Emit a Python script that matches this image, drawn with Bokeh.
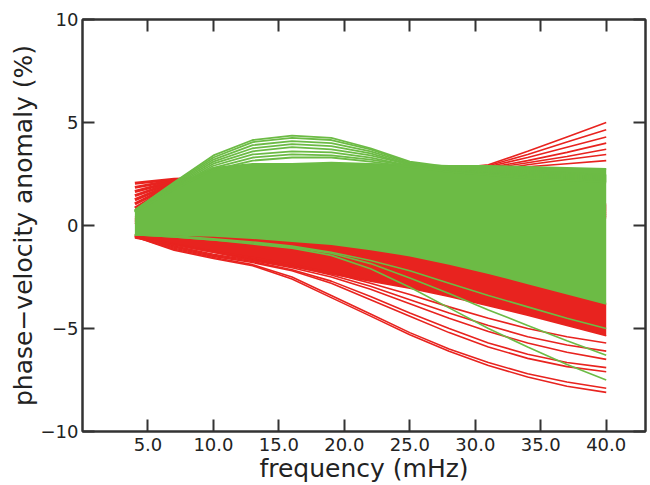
from bokeh.plotting import figure
from bokeh.models import (LinearAxis, FixedTicker, PrintfTickFormatter,
                          CustomLabelingPolicy)
from bokeh.embed import file_html
from bokeh.resources import INLINE

# Frequencies (mHz) at which every dispersion curve is sampled
freq = [4, 7, 10, 13, 16, 19, 22, 25, 28, 31, 34, 37, 40]

# Envelope of the dense bundle of green curves
green_top = [0.7, 1.9, 2.8, 3.0, 3.0, 3.05, 3.0, 2.95, 2.9, 2.9, 2.85, 2.8, 2.75]
green_bottom = [-0.5, -0.5, -0.55, -0.65, -0.8, -0.95, -1.2, -1.5, -1.9, -2.35, -2.85, -3.35, -3.85]

# Envelope of the dense bundle of red curves below it
red_band_top = [-0.4, -0.4, -0.45, -0.55, -0.7, -0.85, -1.1, -1.4, -1.8, -2.25, -2.75, -3.25, -3.75]
red_band_bottom = [-0.6, -0.95, -1.3, -1.7, -2.0, -2.35, -2.7, -3.05, -3.45, -3.9, -4.35, -4.85, -5.35]

# Red curves, high at low frequency
red_wedge = [
    [2.05, 2.25, 2.3, 2.3, 2.2, 2.0, 1.8, 1.6, 1.4, 1.3, 1.2, 1.1, 1.0],
    [1.85, 2.2, 2.25, 2.2, 2.1, 1.9, 1.7, 1.5, 1.3, 1.2, 1.1, 1.0, 0.9],
    [1.65, 2.15, 2.2, 2.1, 2.0, 1.8, 1.6, 1.4, 1.2, 1.1, 1.0, 0.9, 0.8],
    [1.45, 2.1, 2.15, 2.0, 1.9, 1.7, 1.5, 1.3, 1.1, 1.0, 0.9, 0.8, 0.7],
    [1.25, 2.05, 2.1, 1.9, 1.8, 1.6, 1.4, 1.2, 1.0, 0.9, 0.8, 0.7, 0.6],
    [1.05, 2.0, 2.05, 1.8, 1.7, 1.5, 1.3, 1.1, 0.9, 0.8, 0.7, 0.6, 0.5],
    [0.85, 1.95, 2.0, 1.7, 1.6, 1.4, 1.2, 1.0, 0.8, 0.7, 0.6, 0.5, 0.4],
]

# Red curves rising at high frequency
red_fan = [
    [0.4, 0.7, 1.0, 1.3, 1.6, 1.9, 2.2, 2.5, 2.75, 2.95, 3.6, 4.3, 5.0],
    [0.3, 0.6, 0.9, 1.2, 1.5, 1.8, 2.1, 2.4, 2.7, 2.9, 3.45, 4.05, 4.65],
    [0.3, 0.55, 0.85, 1.1, 1.4, 1.7, 2.0, 2.3, 2.6, 2.85, 3.3, 3.8, 4.3],
    [0.2, 0.5, 0.8, 1.0, 1.3, 1.6, 1.9, 2.2, 2.5, 2.8, 3.15, 3.55, 4.0],
    [0.2, 0.45, 0.7, 0.95, 1.2, 1.5, 1.8, 2.1, 2.4, 2.75, 3.05, 3.35, 3.7],
    [0.1, 0.4, 0.6, 0.9, 1.1, 1.4, 1.7, 2.0, 2.3, 2.65, 2.95, 3.2, 3.45],
    [0.1, 0.3, 0.5, 0.8, 1.0, 1.3, 1.6, 1.9, 2.2, 2.6, 2.85, 3.0, 3.15],
]

# Red curves falling steeply at high frequency
red_low = [
    [-0.55, -1.2, -1.6, -1.95, -2.6, -3.5, -4.4, -5.3, -6.1, -6.8, -7.35, -7.8, -8.1],
    [-0.55, -1.15, -1.55, -1.9, -2.5, -3.4, -4.3, -5.2, -6.0, -6.65, -7.2, -7.6, -7.9],
    [-0.5, -1.1, -1.5, -1.8, -2.2, -2.8, -3.6, -4.4, -5.2, -5.9, -6.45, -6.85, -7.1],
    [-0.5, -1.05, -1.45, -1.75, -2.15, -2.7, -3.45, -4.25, -5.0, -5.7, -6.25, -6.65, -6.9],
    [-0.5, -1.0, -1.4, -1.7, -2.05, -2.5, -3.1, -3.8, -4.5, -5.15, -5.7, -6.15, -6.5],
    [-0.5, -0.95, -1.3, -1.6, -1.95, -2.4, -2.95, -3.6, -4.25, -4.85, -5.4, -5.8, -6.1],
    [-0.45, -0.9, -1.25, -1.55, -1.9, -2.3, -2.8, -3.35, -3.95, -4.5, -5.0, -5.4, -5.7],
]

# Green curves peaking near 16 mHz
green_arcs = [
    [0.75, 2.1, 3.4, 4.15, 4.36, 4.25, 3.75, 3.1, 2.85, 2.75, 2.65, 2.55, 2.45],
    [0.75, 2.05, 3.3, 4.05, 4.25, 4.15, 3.7, 3.05, 2.8, 2.7, 2.6, 2.5, 2.4],
    [0.72, 2.0, 3.2, 3.9, 4.1, 4.0, 3.6, 3.0, 2.75, 2.65, 2.55, 2.45, 2.35],
    [0.7, 1.95, 3.1, 3.75, 3.95, 3.85, 3.5, 2.95, 2.7, 2.6, 2.5, 2.4, 2.3],
    [0.7, 1.9, 3.0, 3.6, 3.8, 3.7, 3.4, 2.95, 2.7, 2.55, 2.45, 2.35, 2.25],
    [0.68, 1.85, 2.9, 3.45, 3.6, 3.55, 3.3, 2.9, 2.65, 2.5, 2.4, 2.3, 2.2],
    [0.65, 1.8, 2.8, 3.3, 3.45, 3.4, 3.2, 2.9, 2.6, 2.5, 2.35, 2.25, 2.15],
    [0.65, 1.75, 2.7, 3.15, 3.3, 3.3, 3.1, 2.85, 2.6, 2.45, 2.3, 2.2, 2.1],
]

# Green curves falling at high frequency
green_low = [
    [-0.45, -0.55, -0.7, -0.9, -1.1, -1.45, -2.1, -3.0, -4.0, -5.0, -5.9, -6.75, -7.5],
    [-0.45, -0.55, -0.7, -0.85, -1.05, -1.35, -1.85, -2.55, -3.3, -4.1, -4.85, -5.6, -6.3],
    [-0.45, -0.5, -0.65, -0.8, -1.0, -1.3, -1.7, -2.2, -2.8, -3.4, -3.95, -4.5, -5.0],
]

x_ticks = [5, 10, 15, 20, 25, 30, 35, 40]
y_ticks = [-10, -5, 0, 5, 10]
y_tick_labels = {-10: "\u221210", -5: "\u22125", 0: "0", 5: "5", 10: "10"}

RED = "#e8231f"
GREEN = "#6cbb45"
INK = "#333333"
FONT = "DejaVu Sans"

p = figure(width=650, height=485, x_range=(0, 43), y_range=(-10, 10),
           output_backend="svg", toolbar_location=None,
           min_border_left=82, min_border_right=2, min_border_top=19,
           min_border_bottom=51)
p.grid.visible = False
p.outline_line_color = INK
p.outline_line_width = 2
p.background_fill_color = "white"
p.border_fill_color = "white"

# red curves first, green drawn over them
p.varea(x=freq, y1=red_band_bottom, y2=red_band_top, fill_color=RED)
p.multi_line(xs=[freq] * len(red_wedge), ys=red_wedge, line_color=RED, line_width=3)
p.multi_line(xs=[freq] * len(red_fan), ys=red_fan, line_color=RED, line_width=1.6)
p.multi_line(xs=[freq] * len(red_low), ys=red_low, line_color=RED, line_width=1.6)
p.line(freq, red_band_bottom, line_color=RED, line_width=1.6)

p.varea(x=freq, y1=green_bottom, y2=green_top, fill_color=GREEN)
p.line(freq, green_top, line_color=GREEN, line_width=1.6)
p.multi_line(xs=[freq] * len(green_arcs), ys=green_arcs, line_color=GREEN, line_width=1.8)
p.multi_line(xs=[freq] * len(green_low), ys=green_low, line_color=GREEN, line_width=1.6)

# frame-side axes carry inward ticks only
no_labels = CustomLabelingPolicy(code="return new Set()")


def style_axis(ax, label_size="18px"):
    ax.axis_line_color = INK
    ax.axis_line_width = 2
    ax.major_tick_line_color = INK
    ax.major_tick_line_width = 2
    ax.major_tick_in = 12
    ax.major_tick_out = 0
    ax.minor_tick_line_color = None
    ax.major_label_text_font = FONT
    ax.major_label_text_font_size = label_size
    ax.major_label_text_color = "#222222"


xa = p.xaxis[0]
xa.ticker = FixedTicker(ticks=x_ticks)
xa.formatter = PrintfTickFormatter(format="%.1f")
style_axis(xa)
xa.major_label_standoff = 6
xa.axis_label = "frequency (mHz)"
xa.axis_label_standoff = 0

ya = p.yaxis[0]
ya.ticker = FixedTicker(ticks=y_ticks)
ya.major_label_overrides = y_tick_labels
style_axis(ya)
ya.major_label_standoff = 4
ya.axis_label = "phase\u2212velocity anomaly (%)"
ya.axis_label_standoff = 0

for ax in (xa, ya):
    ax.axis_label_text_font = FONT
    ax.axis_label_text_font_size = "25px"
    ax.axis_label_text_font_style = "normal"
    ax.axis_label_text_color = "#222222"

top = LinearAxis(ticker=FixedTicker(ticks=x_ticks), major_label_policy=no_labels)
style_axis(top, "1px")
top.major_label_standoff = 0
p.add_layout(top, "above")

right = LinearAxis(ticker=FixedTicker(ticks=y_ticks), major_label_policy=no_labels)
style_axis(right, "1px")
right.major_label_standoff = 0
p.add_layout(right, "right")

open("out.html", "w").write(file_html(p, INLINE))
